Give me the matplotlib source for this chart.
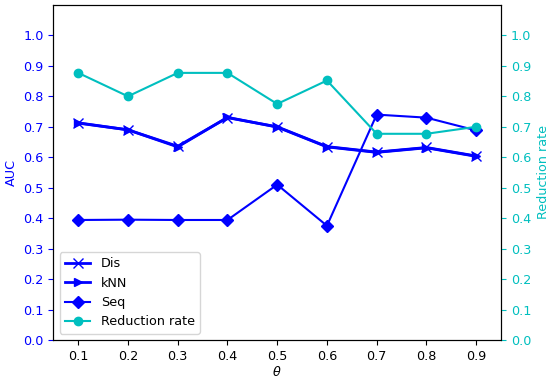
import numpy as np
import matplotlib
matplotlib.use('Agg')
import matplotlib.pyplot as plt

theta = [0.1, 0.2, 0.3, 0.4, 0.5, 0.6, 0.7, 0.8, 0.9]
auc_dis = [0.713, 0.690, 0.636, 0.730, 0.700, 0.635, 0.617, 0.632, 0.604]
auc_knn = [0.712, 0.690, 0.634, 0.731, 0.699, 0.634, 0.616, 0.631, 0.603]
auc_seq = [0.394, 0.395, 0.394, 0.394, 0.510, 0.375, 0.740, 0.730, 0.688]
reduction = [0.877, 0.800, 0.877, 0.877, 0.775, 0.852, 0.677, 0.677, 0.700]

plt.rcParams['font.size'] = 9.2

fig = plt.figure(figsize=(5.5, 3.82), dpi=100)
ax1 = fig.add_axes([0.097, 0.11, 0.814, 0.877])
ax2 = ax1.twinx()

l1, = ax1.plot(theta, auc_dis, 'b-x', linewidth=2, markersize=7, label='Dis')
l2, = ax1.plot(theta, auc_knn, 'b->', linewidth=2, markersize=6, label='kNN')
l3, = ax1.plot(theta, auc_seq, 'b-D', linewidth=1.5, markersize=6, label='Seq')
l4, = ax2.plot(theta, reduction, 'c-o', linewidth=1.5, markersize=6, label='Reduction rate')

ax1.set_ylim(0, 1.1)
ax2.set_ylim(0, 1.1)
ax1.set_xlim(0.05, 0.95)
ax1.set_xticks(theta)
ax1.set_yticks(np.arange(0, 1.01, 0.1))
ax2.set_yticks(np.arange(0, 1.01, 0.1))

ax1.set_xlabel(r'$\theta$', labelpad=2)
ax1.set_ylabel('AUC', color='b')
ax2.set_ylabel('Reduction rate', color='c')
ax1.tick_params(axis='y', colors='b')
ax2.tick_params(axis='y', colors='c')

ax1.legend(handles=[l1, l2, l3, l4], loc='lower left')

plt.savefig('out.png', dpi=100)
